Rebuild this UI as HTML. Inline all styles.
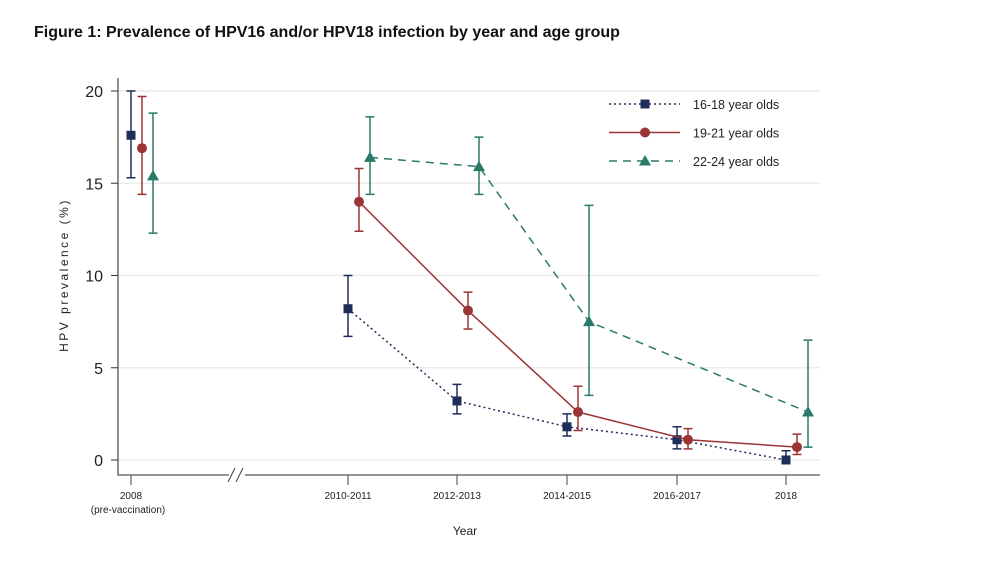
<!DOCTYPE html>
<html><head><meta charset="utf-8"><style>
body{margin:0;background:#fff;width:999px;height:567px;overflow:hidden;font-family:"Liberation Sans",Arial,sans-serif}
svg text{font-family:"Liberation Sans",Arial,sans-serif}
</style></head><body>
<svg id="chart" width="999" height="567">
<text x="34" y="37" font-size="16" font-weight="bold" fill="#111">Figure 1: Prevalence of HPV16 and/or HPV18 infection by year and age group</text>
<g id="plot"></g>
</svg>
<script>
const categories=["2008","2010-2011","2012-2013","2014-2015","2016-2017","2018"];
const catPx=[131,348,457,567,677,786];
const seriesNames=["16-18 year olds","19-21 year olds","22-24 year olds"];
const s1618=[17.6,8.2,3.2,1.8,1.1,0.0];
const s1618Lo=[15.3,6.7,2.5,1.3,0.6,0.0];
const s1618Hi=[20.0,10.0,4.1,2.5,1.8,0.5];
const s1921=[16.9,14.0,8.1,2.6,1.1,0.7];
const s1921Lo=[14.4,12.4,7.1,1.6,0.6,0.3];
const s1921Hi=[19.7,15.8,9.1,4.0,1.7,1.4];
const s2224=[15.4,16.4,15.9,7.5,null,2.6];
const s2224Lo=[12.3,14.4,14.4,3.5,null,0.7];
const s2224Hi=[18.8,18.6,17.5,13.8,null,6.5];
const yTicks=[0,5,10,15,20];

const NS="http://www.w3.org/2000/svg";
const g=document.getElementById('plot');
const y=v=>460-v*18.45;
const x=(i,k)=>catPx[i]+k*11;
function el(t,a,p){const e=document.createElementNS(NS,t);for(const k in a)e.setAttribute(k,a[k]);(p||g).appendChild(e);return e;}

yTicks.forEach(v=>{
  const l=el('line',{x1:118,x2:820,y1:y(v),y2:y(v),stroke:'#ececec','stroke-width':1.5});
  
  
  el('line',{x1:111,x2:118,y1:y(v),y2:y(v),stroke:'#333'});
  const t=el('text',{x:103,y:y(v)+6,'text-anchor':'end','font-size':16,fill:'#222'});
  t.textContent=v;
  
  
});
const ax=el('path',{d:'M118,78 V475 H820',fill:'none',stroke:'#555','stroke-width':1.3});


el('rect',{x:229,y:470,width:16,height:10,fill:'#fff'});
el('line',{x1:228,y1:482,x2:235,y2:468,stroke:'#555','stroke-width':1.2});
el('line',{x1:236,y1:482,x2:243,y2:468,stroke:'#555','stroke-width':1.2});
categories.forEach((c,i)=>{
  el('line',{x1:catPx[i],x2:catPx[i],y1:475,y2:485,stroke:'#444'});
  const t=el('text',{x:catPx[i],y:499,'text-anchor':'middle','font-size':10,fill:'#222'});
  t.textContent=c;
  
  
});
const pv=el('text',{x:128,y:513,'text-anchor':'middle','font-size':10,fill:'#222'});pv.textContent='(pre-vaccination)';
const xt=el('text',{x:465,y:535,'text-anchor':'middle','font-size':12,fill:'#222'});xt.textContent='Year';


const yt=el('text',{x:0,y:0,'text-anchor':'middle','font-size':12,fill:'#222','letter-spacing':'2.5',transform:'translate(68,275) rotate(-90)'});yt.textContent='HPV prevalence (%)';



const series=[
 {v:s1618,lo:s1618Lo,hi:s1618Hi,c:'#1f2d5a',dash:'2,3',m:'sq',w:1.5},
 {v:s1921,lo:s1921Lo,hi:s1921Hi,c:'#9b3535',dash:'',m:'ci',w:1.5},
 {v:s2224,lo:s2224Lo,hi:s2224Hi,c:'#2a7a6a',dash:'8,6',m:'tr',w:1.5}];
function marker(s,cx,cy,parent){
  if(s.m==='sq')return el('rect',{x:cx-4.5,y:cy-4.5,width:9,height:9,fill:s.c},parent);
  if(s.m==='ci')return el('circle',{cx:cx,cy:cy,r:5,fill:s.c},parent);
  return el('path',{d:`M${cx},${cy-6}L${cx+6},${cy+4.5}L${cx-6},${cy+4.5}Z`,fill:s.c},parent);
}
series.forEach((s,k)=>{
  const grp=el('g',{});
  
  
  let pts=[];
  for(let i=1;i<s.v.length;i++) if(s.v[i]!==null) pts.push(x(i,k)+','+y(s.v[i]));
  el('polyline',{points:pts.join(' '),fill:'none',stroke:s.c,'stroke-width':s.w,'stroke-dasharray':s.dash},grp);
  s.v.forEach((v,i)=>{
    if(v===null)return;
    const cx=x(i,k);
    el('path',{d:`M${cx},${y(s.lo[i])}V${y(s.hi[i])}M${cx-4.5},${y(s.lo[i])}H${cx+4.5}M${cx-4.5},${y(s.hi[i])}H${cx+4.5}`,stroke:s.c,'stroke-width':1.5,fill:'none'},grp);
    const m=marker(s,cx,y(v),grp);
    
    
  });
  const lg=el('g',{});
  
  
  const ly=104+k*28.5;
  el('line',{x1:609,x2:680,y1:ly,y2:ly,stroke:s.c,'stroke-width':1.5,'stroke-dasharray':s.dash},lg);
  marker(s,645,ly,lg);
  const t=el('text',{x:693,y:ly+5,'font-size':12.5,fill:'#222'},lg);t.textContent=seriesNames[k];
});
</script>
</body></html>
